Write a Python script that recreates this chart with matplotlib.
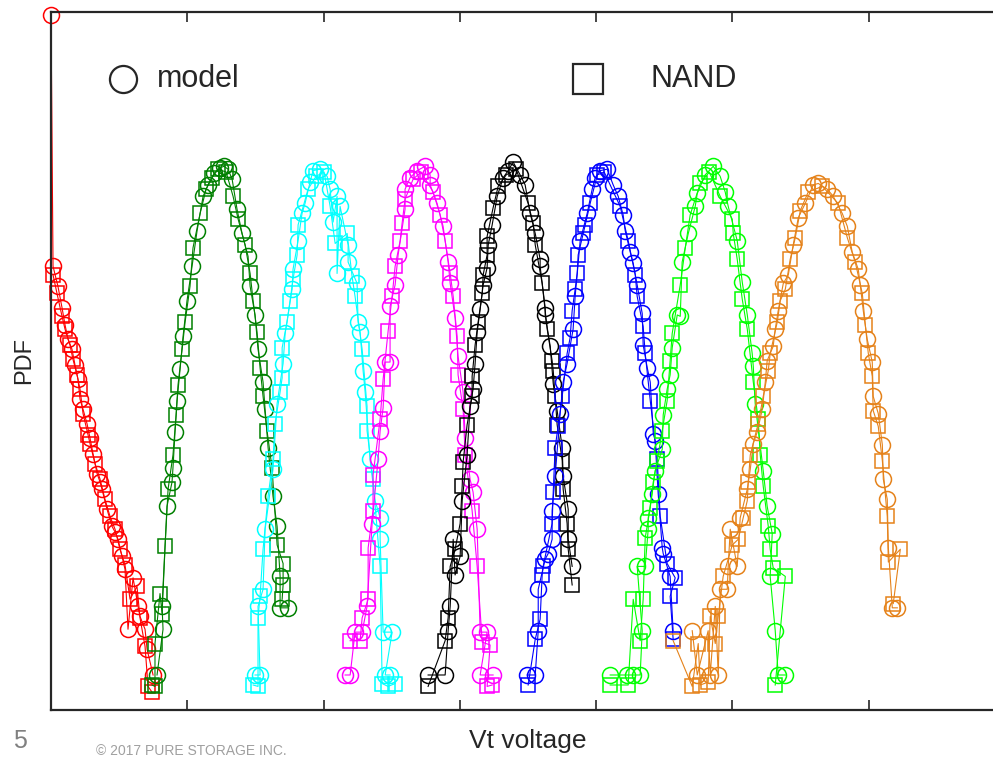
import matplotlib.pyplot as plt
import matplotlib as mpl

mpl.rcParams['font.family'] = ['Liberation Sans', 'DejaVu Sans']

# Vt (tick spacing = 1) and log10(PDF)
er_model_vt = [0.00, 0.015, 0.051, 0.081, 0.103, 0.125, 0.154, 0.176, 0.198, 0.213, 0.235, 0.264, 0.286, 0.308,
               0.338, 0.360, 0.374, 0.411, 0.448, 0.470, 0.492, 0.521, 0.543, 0.565, 0.602, 0.639, 0.653, 0.690,
               0.705, 0.749]
er_model_pdf = [4.62, 2.86, 2.72, 2.57, 2.45, 2.35, 2.28, 2.17, 2.07, 1.93, 1.86, 1.76, 1.66, 1.55,
                1.41, 1.35, 1.30, 1.16, 1.04, 1.00, 0.95, 0.83, 0.74, 0.32, 0.68, 0.48, 0.41, 0.32,
                0.18, 0.00]
er_nand_vt = [0.015, 0.044, 0.081, 0.103, 0.139, 0.161, 0.191, 0.213, 0.235, 0.272, 0.286, 0.323, 0.360, 0.396,
              0.433, 0.470, 0.506, 0.543, 0.580, 0.631, 0.653, 0.690, 0.712, 0.741]
er_nand_pdf = [2.80, 2.67, 2.51, 2.42, 2.31, 2.21, 2.10, 2.00, 1.83, 1.68, 1.62, 1.48, 1.37, 1.23,
               1.11, 1.02, 0.88, 0.77, 0.53, 0.62, 0.40, 0.20, -0.08, -0.12]

p1_model_vt = [0.778, 0.822, 0.815, 0.851, 0.888, 0.895, 0.910, 0.925, 0.947, 0.969, 0.998, 1.035, 1.072, 1.116,
               1.152, 1.196, 1.240, 1.270, 1.299, 1.329, 1.365, 1.402, 1.446, 1.461, 1.497, 1.519, 1.556, 1.571,
               1.593, 1.629, 1.659, 1.681, 1.681, 1.740]
p1_model_pdf = [0.00, 0.32, 0.48, 1.18, 1.35, 1.45, 1.70, 1.92, 2.14, 2.37, 2.62, 2.86, 3.11, 3.35,
                3.43, 3.51, 3.55, 3.56, 3.54, 3.47, 3.26, 3.09, 2.93, 2.72, 2.52, 2.28, 2.05, 1.86,
                1.59, 1.25, 1.04, 0.69, 0.47, 0.47]
p1_nand_vt = [0.741, 0.763, 0.763, 0.800, 0.815, 0.837, 0.859, 0.895, 0.918, 0.932, 0.962, 0.984, 1.020, 1.042,
              1.094, 1.138, 1.182, 1.226, 1.285, 1.336, 1.373, 1.424, 1.461, 1.483, 1.512, 1.534, 1.556, 1.585,
              1.622, 1.659, 1.703, 1.703, 1.696]
p1_nand_pdf = [-0.07, -0.08, 0.22, 0.57, 0.43, 0.90, 1.30, 1.54, 1.82, 2.03, 2.28, 2.47, 2.72, 2.99,
               3.23, 3.40, 3.48, 3.54, 3.52, 3.35, 3.19, 3.01, 2.81, 2.62, 2.40, 2.15, 1.95, 1.71,
               1.45, 0.91, 0.78, 0.63, 0.53]

p2_model_vt = [1.497, 1.534, 1.519, 1.556, 1.571, 1.629, 1.659, 1.703, 1.718, 1.769, 1.776, 1.813, 1.842, 1.864,
               1.901, 1.923, 1.974, 2.026, 2.048, 2.070, 2.099, 2.099, 2.121, 2.180, 2.180, 2.246, 2.253, 2.268,
               2.290, 2.305, 2.341, 2.378, 2.415, 2.415, 2.437, 2.503, 2.452, 2.488]
p2_model_pdf = [0.00, 0.00, 0.48, 0.60, 1.02, 1.44, 1.90, 2.18, 2.39, 2.70, 2.84, 3.04, 3.23, 3.30,
                3.45, 3.53, 3.54, 3.49, 3.40, 3.17, 3.35, 2.81, 3.28, 3.01, 2.89, 2.74, 2.47, 2.40,
                2.13, 1.98, 1.51, 1.22, 1.10, 0.95, 0.30, 0.30, 0.00, 0.00]
p2_nand_vt = [1.483, 1.519, 1.519, 1.534, 1.556, 1.593, 1.629, 1.644, 1.681, 1.696, 1.696, 1.732, 1.754, 1.776,
              1.806, 1.813, 1.886, 1.945, 2.004, 2.048, 2.085, 2.173, 2.209, 2.231, 2.283, 2.319, 2.319, 2.363,
              2.415, 2.430, 2.473, 2.525]
p2_nand_pdf = [-0.07, -0.08, 0.40, 0.55, 0.88, 1.25, 1.51, 1.76, 1.98, 2.08, 2.29, 2.47, 2.62, 2.77,
               2.94, 3.15, 3.40, 3.49, 3.52, 3.28, 3.02, 3.09, 2.79, 2.65, 2.28, 1.88, 1.71, 1.37,
               0.76, -0.06, -0.08, -0.06]

p3_model_vt = [2.158, 2.195, 2.231, 2.283, 2.319, 2.356, 2.400, 2.415, 2.437, 2.452, 2.488, 2.488, 2.525, 2.547,
               2.598, 2.598, 2.635, 2.686, 2.745, 2.782, 2.782, 2.833, 2.877, 2.914, 2.929, 2.965, 2.987, 3.024,
               3.039, 3.075, 3.097, 3.127, 3.149, 3.200, 3.149, 3.244]
p3_model_pdf = [0.00, 0.00, 0.30, 0.30, 0.48, 1.06, 1.51, 1.71, 1.87, 2.19, 2.19, 2.58, 2.73, 2.94,
                3.26, 3.40, 3.48, 3.53, 3.56, 3.50, 3.43, 3.30, 3.14, 2.89, 2.74, 2.50, 2.23, 1.98,
                1.66, 1.37, 1.28, 1.02, 0.30, 0.30, 0.00, 0.00]
p3_nand_vt = [2.195, 2.268, 2.283, 2.327, 2.327, 2.363, 2.363, 2.415, 2.437, 2.474, 2.503, 2.525, 2.562, 2.576,
              2.598, 2.657, 2.716, 2.804, 2.855, 2.892, 2.929, 2.951, 2.980, 2.987, 3.024, 3.039, 3.090, 3.127,
              3.164, 3.222, 3.200, 3.237]
p3_nand_pdf = [0.24, 0.24, 0.40, 0.53, 0.89, 1.15, 1.40, 1.79, 2.07, 2.41, 2.65, 2.86, 3.04, 3.16,
               3.33, 3.47, 3.52, 3.38, 3.22, 3.04, 2.81, 2.65, 2.37, 2.10, 1.86, 1.54, 1.15, 0.76,
               0.23, 0.21, -0.08, -0.07]

p4_model_vt = [2.767, 2.892, 2.914, 2.929, 2.951, 2.965, 3.002, 3.017, 3.053, 3.075, 3.097, 3.112, 3.127, 3.149,
               3.171, 3.200, 3.208, 3.237, 3.274, 3.318, 3.354, 3.391, 3.442, 3.479, 3.516, 3.553, 3.589, 3.589,
               3.626, 3.626, 3.663, 3.685, 3.714, 3.751, 3.758, 3.795, 3.795, 3.824]
p4_model_pdf = [0.00, 0.00, 0.31, 0.48, 0.95, 0.70, 0.83, 1.22, 1.54, 1.88, 2.00, 2.18, 2.40, 2.56,
                2.73, 2.85, 3.01, 3.15, 3.35, 3.48, 3.53, 3.59, 3.50, 3.43, 3.23, 3.09, 2.91, 2.86,
                2.57, 2.52, 2.30, 2.04, 1.85, 1.59, 1.39, 1.16, 0.95, 0.76]
p4_nand_vt = [2.767, 2.892, 2.914, 2.929, 2.965, 3.002, 3.017, 3.024, 3.053, 3.090, 3.090, 3.112, 3.134, 3.164,
              3.171, 3.200, 3.200, 3.244, 3.281, 3.340, 3.413, 3.501, 3.538, 3.553, 3.604, 3.641, 3.677, 3.685,
              3.699, 3.714, 3.751, 3.758, 3.787, 3.795, 3.824]
p4_nand_pdf = [-0.08, 0.24, 0.40, 0.76, 0.88, 1.06, 1.32, 1.49, 1.75, 1.95, 2.09, 2.31, 2.47, 2.67,
               2.80, 2.94, 3.07, 3.27, 3.42, 3.50, 3.54, 3.30, 3.16, 3.01, 2.74, 2.42, 2.20, 2.13,
               1.95, 1.75, 1.50, 1.30, 1.06, 0.88, 0.63]

p5_model_vt = [3.494, 3.553, 3.575, 3.575, 3.626, 3.648, 3.677, 3.677, 3.699, 3.736, 3.758, 3.787, 3.831, 3.846,
               3.883, 3.934, 3.971, 3.993, 4.030, 4.081, 4.125, 4.162, 4.198, 4.213, 4.250, 4.272, 4.301, 4.338,
               4.345, 4.375, 4.397, 4.419, 4.433, 4.455, 4.485, 4.492, 4.543, 4.565]
p5_model_pdf = [0.00, 0.00, 0.31, 0.60, 0.81, 0.85, 0.95, 1.15, 1.39, 1.83, 2.05, 2.18, 2.42, 2.65,
                3.04, 3.23, 3.40, 3.48, 3.53, 3.54, 3.43, 3.35, 3.22, 3.11, 2.96, 2.88, 2.73, 2.53,
                2.31, 2.15, 2.05, 1.69, 1.64, 1.27, 0.89, 0.85, 0.69, 0.31]
p5_nand_vt = [3.501, 3.553, 3.589, 3.604, 3.611, 3.677, 3.685, 3.699, 3.721, 3.751, 3.787, 3.809, 3.824, 3.846,
              3.861, 3.868, 3.905, 3.920, 3.956, 4.008, 4.059, 4.176, 4.235, 4.287, 4.301, 4.345, 4.360, 4.397,
              4.448, 4.470, 4.521, 4.580, 4.543, 4.565]
p5_nand_pdf = [-0.07, 0.25, 0.39, 0.70, 0.76, 1.06, 1.28, 1.59, 1.74, 1.95, 2.25, 2.36, 2.55, 2.70,
               2.81, 2.94, 3.09, 3.15, 3.30, 3.50, 3.52, 3.28, 3.04, 2.80, 2.65, 2.44, 2.25, 1.92,
               1.51, 1.11, 0.78, 0.68, 0.55, 0.25]

p6_model_vt = [4.103, 4.228, 4.272, 4.323, 4.338, 4.301, 4.360, 4.382, 4.382, 4.411, 4.433, 4.485, 4.492, 4.521,
               4.543, 4.558, 4.595, 4.617, 4.631, 4.676, 4.727, 4.742, 4.800, 4.859, 4.910, 4.947, 4.969, 5.035,
               5.072, 5.109, 5.145, 5.153, 5.167, 5.226, 5.255, 5.292, 5.277, 5.314, 5.336, 5.388]
p6_model_pdf = [0.00, 0.00, 0.00, 0.00, 0.31, 0.76, 0.76, 1.02, 1.10, 1.27, 1.43, 1.58, 1.82, 2.00,
                2.10, 2.29, 2.52, 2.51, 2.89, 3.09, 3.28, 3.37, 3.50, 3.56, 3.49, 3.38, 3.28, 3.04,
                2.75, 2.52, 2.25, 2.16, 1.90, 1.43, 1.18, 0.99, 0.69, 0.31, 0.00, 0.00]
p6_nand_vt = [4.103, 4.235, 4.272, 4.323, 4.345, 4.360, 4.397, 4.419, 4.448, 4.485, 4.521, 4.543, 4.558, 4.617,
              4.654, 4.690, 4.764, 4.830, 4.910, 4.999, 5.006, 5.035, 5.072, 5.109, 5.153, 5.189, 5.204, 5.226,
              5.263, 5.277, 5.299, 5.388, 5.314]
p6_nand_pdf = [-0.07, -0.07, 0.53, 0.24, 0.53, 0.96, 1.17, 1.35, 1.50, 1.71, 1.92, 2.20, 2.39, 2.73,
               2.99, 3.22, 3.44, 3.52, 3.35, 3.19, 3.09, 2.91, 2.63, 2.42, 2.05, 1.79, 1.54, 1.32,
               1.04, 0.88, 0.75, 0.69, -0.07]

p7_model_vt = [4.705, 4.742, 4.822, 4.837, 4.874, 4.896, 4.910, 4.962, 4.969, 4.984, 5.035, 5.057, 5.109, 5.131,
               5.153, 5.182, 5.219, 5.241, 5.255, 5.299, 5.314, 5.336, 5.373, 5.410, 5.446, 5.483, 5.534, 5.593,
               5.630, 5.696, 5.740, 5.806, 5.843, 5.879, 5.923, 5.938, 5.960, 5.989, 6.026, 6.033, 6.070, 6.100,
               6.107, 6.136, 6.144, 6.173, 6.210]
p7_model_pdf = [0.31, 0.00, 0.31, 0.00, 0.48, 0.00, 0.60, 0.60, 0.76, 1.02, 0.76, 1.10, 1.30, 1.44,
                1.62, 1.70, 1.86, 2.05, 2.20, 2.30, 2.42, 2.55, 2.74, 2.80, 3.01, 3.20, 3.30, 3.43,
                3.44, 3.40, 3.35, 3.23, 3.14, 2.96, 2.84, 2.73, 2.55, 2.35, 2.19, 1.95, 1.83, 1.61,
                1.37, 1.23, 0.89, 0.47, 0.47]
p7_nand_vt = [4.565, 4.705, 4.749, 4.764, 4.822, 4.837, 4.874, 4.896, 4.932, 4.999, 5.043, 5.079, 5.109, 5.116,
              5.131, 5.189, 5.226, 5.263, 5.277, 5.329, 5.351, 5.388, 5.424, 5.461, 5.498, 5.556, 5.659, 5.776,
              5.843, 5.901, 5.953, 5.975, 5.997, 6.026, 6.033, 6.070, 6.100, 6.136, 6.144, 6.232, 6.180]
p7_nand_pdf = [0.24, -0.08, 0.22, -0.07, -0.05, 0.41, 0.22, 0.41, 0.69, 0.91, 0.95, 1.10, 1.22, 1.35,
               1.54, 1.76, 1.95, 2.13, 2.25, 2.47, 2.62, 2.70, 2.91, 3.06, 3.25, 3.38, 3.42, 3.30,
               3.06, 2.89, 2.67, 2.45, 2.25, 2.09, 1.85, 1.74, 1.50, 1.11, 0.79, 0.88, 0.50]

states = [
    (er_model_vt, er_model_pdf, er_nand_vt, er_nand_pdf, '#ff0000'),
    (p1_model_vt, p1_model_pdf, p1_nand_vt, p1_nand_pdf, '#008000'),
    (p2_model_vt, p2_model_pdf, p2_nand_vt, p2_nand_pdf, '#00ffff'),
    (p3_model_vt, p3_model_pdf, p3_nand_vt, p3_nand_pdf, '#ff00ff'),
    (p4_model_vt, p4_model_pdf, p4_nand_vt, p4_nand_pdf, '#000000'),
    (p5_model_vt, p5_model_pdf, p5_nand_vt, p5_nand_pdf, '#0000ff'),
    (p6_model_vt, p6_model_pdf, p6_nand_vt, p6_nand_pdf, '#00ff00'),
    (p7_model_vt, p7_model_pdf, p7_nand_vt, p7_nand_pdf, '#e5821a'),
]

fig = plt.figure(figsize=(9.93, 7.57), dpi=100)
ax = fig.add_axes([51 / 993, 47 / 757, 954 / 993, 698 / 757])

for mx, my, nx, ny, c in states:
    ax.plot(mx, my, '-o', color=c, mfc='none', mec=c, ms=11.5, mew=1.1, lw=0.8, clip_on=False)
    ax.plot(nx, ny, '-s', color=c, mfc='none', mec=c, ms=9.5, mew=1.1, lw=0.8, clip_on=False)

ax.set_xlim(0, 7)
ax.set_ylim(-0.245, 4.64)
ax.set_xticks(range(8))
ax.set_yticks([])
ax.tick_params(axis='x', direction='in', top=True, length=7, width=1.2,
               labelbottom=False, color='#262626')
for s in ax.spines.values():
    s.set_color('#262626')
    s.set_linewidth(1.6)

ax.set_xlabel("Vt voltage", fontsize=19, color='#262626', labelpad=14)
ax.set_ylabel("PDF", fontsize=17, color='#262626')
ax.yaxis.set_label_coords(-0.017, 0.5)

# legend keys
ax.plot([0.0755], [0.904], 'o', transform=ax.transAxes, ms=19.5, mfc='none', mec='#262626', mew=1.6)
ax.text(0.111, 0.904, "model", transform=ax.transAxes, fontsize=22, va='center', color='#262626')
ax.plot([0.563], [0.904], 's', transform=ax.transAxes, ms=22, mfc='none', mec='#262626', mew=1.6)
ax.text(0.628, 0.904, "NAND", transform=ax.transAxes, fontsize=22, va='center', color='#262626')

fig.text(13 / 993, 4 / 757, "5", fontsize=18, color='#808080', va='bottom')
fig.text(96 / 993, 1 - 744 / 757, "© 2017 PURE STORAGE INC.", fontsize=10, color='#a0a0a0', va='top')

fig.savefig("out.png", dpi=100)
